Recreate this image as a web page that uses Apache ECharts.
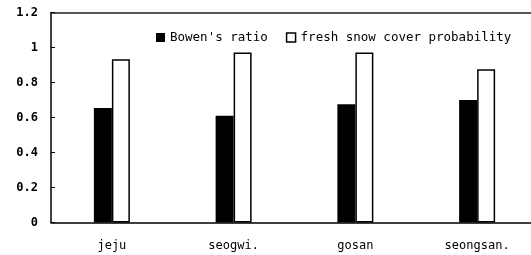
<!DOCTYPE html>
<html lang="en">
<head>
  <meta charset="utf-8">
  <title>Bowen's ratio</title>
  <script src="https://cdn.jsdelivr.net/npm/echarts@6/dist/echarts.min.js"></script>
  <style>
    html, body { margin: 0; padding: 0; background: #fff; }
    #container { width: 531px; height: 255px; }
  </style>
</head>
<body>
<div id="container"></div>
<script>
  var stations = ['jeju', 'seogwi.', 'gosan', 'seongsan.'];
  var bowenRatio = [0.654, 0.61, 0.676, 0.70];
  var snowProb = [0.933, 0.971, 0.971, 0.876];
  var yTicks = [0, 0.2, 0.4, 0.6, 0.8, 1, 1.2];

  var chart = echarts.init(document.getElementById('container'));

  var monoFont = '"DejaVu Sans Mono", "Liberation Mono", monospace';

  var option = {
    animation: false,
    backgroundColor: '#fff',
    legend: {
      left: 151,
      top: 26,
      itemWidth: 9,
      itemHeight: 9,
      itemGap: 18,
      icon: 'rect',
      textStyle: { color: '#000', fontFamily: monoFont, fontSize: 12.5 },
      data: [
        { name: "Bowen's ratio", itemStyle: { color: '#000' } },
        { name: 'fresh snow cover probability', itemStyle: { color: '#fff', borderColor: '#000', borderWidth: 1.5 } }
      ]
    },
    grid: {
      left: 51,
      top: 12.5,
      width: 487,
      bottom: 32.5,
      outerBoundsMode: 'none',
      containLabel: false
    },
    xAxis: [
      {
        type: 'category',
        data: stations,
        axisLine: { lineStyle: { color: '#000', width: 1.5 } },
        axisTick: { inside: true, length: 4, lineStyle: { color: '#000' } },
        axisLabel: { color: '#000', fontFamily: monoFont, fontSize: 12, margin: 17 }
      },
      {
        // top frame line only
        type: 'category',
        position: 'top',
        data: stations,
        axisLine: { show: true, lineStyle: { color: '#222', width: 1.5 } },
        axisTick: { show: false },
        axisLabel: { show: false }
      }
    ],
    yAxis: {
      type: 'value',
      min: yTicks[0],
      max: yTicks[yTicks.length - 1],
      interval: 0.2,
      splitLine: { show: false },
      axisLine: { show: true, lineStyle: { color: '#000', width: 1.5 } },
      axisTick: { show: true, inside: true, length: 4, lineStyle: { color: '#000' } },
      axisLabel: {
        color: '#000',
        fontFamily: monoFont,
        fontWeight: 'bold',
        fontSize: 12,
        margin: 13,
        formatter: function (v) { return String(Math.round(v * 10) / 10); }
      }
    },
    series: [
      {
        name: "Bowen's ratio",
        type: 'bar',
        data: bowenRatio,
        barWidth: 18,
        barGap: '0%',
        itemStyle: { color: '#000' }
      },
      {
        name: 'fresh snow cover probability',
        type: 'bar',
        data: snowProb,
        barWidth: 18,
        itemStyle: { color: '#fff', borderColor: '#000', borderWidth: 1.5 }
      }
    ]
  };

  chart.setOption(option);
</script>
</body>
</html>
